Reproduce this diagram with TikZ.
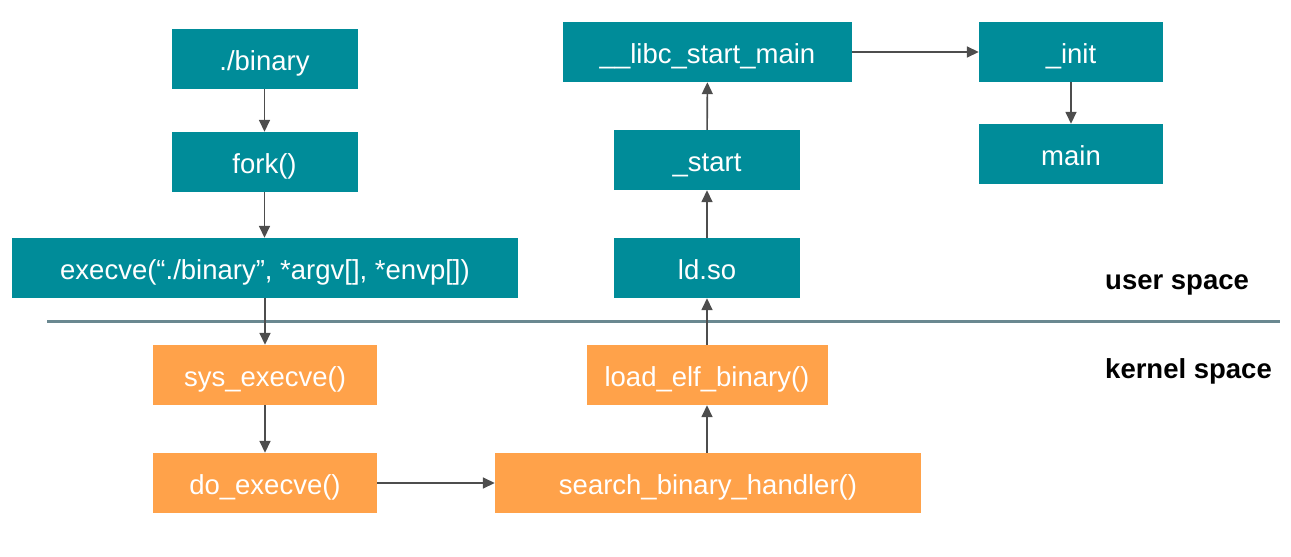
\documentclass[tikz,border=0pt]{standalone}
\usepackage{fontspec}
\setmainfont{Liberation Sans}
\usetikzlibrary{arrows.meta}
\definecolor{userbox}{HTML}{008C99}
\definecolor{kernbox}{HTML}{FFA24A}
\definecolor{arrowgray}{HTML}{4D4D4D}
\definecolor{divider}{HTML}{6A8890}
\begin{document}
\begin{tikzpicture}[x=1pt,y=-1pt,
  fnbox/.style={rectangle, inner sep=0pt, minimum height=60pt, text=white,
    text height=23pt, text depth=0pt,
    font=\fontsize{27.5}{32}\selectfont},
  userfn/.style={fnbox, fill=userbox},
  kernfn/.style={fnbox, fill=kernbox},
  flow/.style={draw=arrowgray, line width=1.6pt, -{Triangle[length=12pt,width=11pt]}},
  spacelabel/.style={anchor=base west, inner sep=0pt, font=\bfseries\fontsize{27.5}{32}\selectfont},
]
\useasboundingbox (0,0) rectangle (1291,557);

% user-space call chain
\node[userfn, minimum width=186pt] (bin)   at (264.5,59)  {./binary};
\node[userfn, minimum width=186pt] (fork)  at (264.5,162) {fork()};
\node[userfn, minimum width=506pt] (exec)  at (265,268)   {execve(“./binary”, *argv[], *envp[])};
\node[userfn, minimum width=186pt] (ld)    at (707,268)   {ld.so};
\node[userfn, minimum width=186pt] (start) at (707,160)   {\_start};
\node[userfn, minimum width=289pt] (libc)  at (707.5,52)  {\_\_libc\_start\_main};
\node[userfn, minimum width=184pt] (init)  at (1071,52)   {\_init};
\node[userfn, minimum width=184pt] (main)  at (1071,154)  {main};

% kernel-space call chain
\node[kernfn, minimum width=224pt] (sys)    at (265,375) {sys\_execve()};
\node[kernfn, minimum width=224pt] (doexec) at (265,483) {do\_execve()};
\node[kernfn, minimum width=426pt] (search) at (708,483) {search\_binary\_handler()};
\node[kernfn, minimum width=241pt] (loadelf) at (707,375) {load\_elf\_binary()};

% user / kernel boundary
\coordinate (divL) at (47,321);
\coordinate (divR) at (1280,321);
\draw[divider, line width=3pt] (divL) -- (divR);
\node[spacelabel] (ulabel) at (1105,289) {user space};
\node[spacelabel] (klabel) at (1105,378) {kernel space};

% connectors
\draw[flow] (bin) -- (fork);
\draw[flow] (fork) -- (exec.north -| fork);
\draw[flow] (exec.south -| sys) -- (sys);
\draw[flow] (sys) -- (doexec);
\draw[flow] (doexec) -- (search);
\draw[flow] (search.north -| loadelf) -- (loadelf);
\draw[flow] (loadelf) -- (ld);
\draw[flow] (ld) -- (start);
\draw[flow] (start) -- (libc);
\draw[flow] (libc) -- (init);
\draw[flow] (init) -- (main);
\end{tikzpicture}
\end{document}
